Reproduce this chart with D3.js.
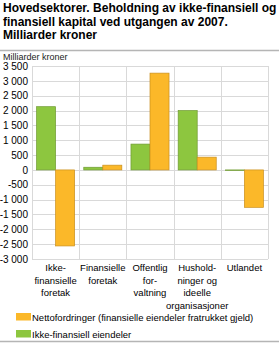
<!DOCTYPE html>
<html>
<head>
<meta charset="utf-8">
<script src="https://cdn.jsdelivr.net/npm/d3@7"></script>
<style>
body { margin: 0; background: #fff; }
svg { font-family: Arial, "Liberation Sans", sans-serif; }
</style>
</head>
<body>
<div id="chart"></div>
<script>
var categories = [
    ['Ikke-', 'finansielle', 'foretak'],
    ['Finansielle', 'foretak'],
    ['Offentlig', 'for-', 'valtning'],
    ['Hushold-', 'ninger og', 'ideelle', 'organisasjoner'],
    ['Utlandet']
];
var ikkeFinansiell = [2130, 90, 870, 2000, -10];
var nettofordringer = [-2560, 160, 3260, 430, -1260];
var yTicks = [3500, 3000, 2500, 2000, 1500, 1000, 500, 0, -500, -1000, -1500, -2000, -2500, -3000];
var seriesNames = ['Ikke-finansiell eiendeler', 'Nettofordringer (finansielle eiendeler fratrukket gjeld)'];
var colors = ['#8dc63f', '#fbb829'];
var strokes = ['#6f9a33', '#c98f1f'];

function drawChart() {
    var w = 279, h = 343;
    var pLeft = 32, pRight = 268, pTop = 66, pBottom = 259;

    var svg = d3.select('#chart').append('svg')
        .attr('width', w)
        .attr('height', h);

    // title
    var title = ['Hovedsektorer. Beholdning av ikke-finansiell og', 'finansiell kapital ved utgangen av 2007.', 'Milliarder kroner'];
    svg.append('g').selectAll('text').data(title).enter().append('text')
        .attr('x', 3)
        .attr('y', function (d, i) { return 12 + i * 13.5; })
        .attr('font-size', '12px')
        .attr('font-weight', 'bold')
        .attr('fill', '#000')
        .text(function (d) { return d; });

    svg.append('line')
        .attr('x1', 0).attr('x2', w)
        .attr('y1', 50.5).attr('y2', 50.5)
        .attr('stroke', '#b5b5b5')
        .attr('stroke-width', 1.5);

    svg.append('text')
        .attr('x', 3).attr('y', 60)
        .attr('font-size', '9px')
        .attr('fill', '#222')
        .text('Milliarder kroner');

    var x = d3.scaleBand()
        .domain(d3.range(categories.length))
        .range([pLeft, pRight]);

    var inner = d3.scaleBand()
        .domain([0, 1])
        .range([0, x.bandwidth()])
        .paddingOuter(0.24)
        .paddingInner(0);

    var y = d3.scaleLinear()
        .domain([-3000, 3500])
        .range([pBottom, pTop]);

    // grid
    svg.append('g').selectAll('line').data(yTicks).enter().append('line')
        .attr('x1', pLeft).attr('x2', pRight)
        .attr('y1', function (d) { return Math.round(y(d)) + 0.5; })
        .attr('y2', function (d) { return Math.round(y(d)) + 0.5; })
        .attr('stroke', '#d9d9d9')
        .attr('stroke-width', 1);

    svg.append('g').selectAll('line').data(d3.range(categories.length + 1)).enter().append('line')
        .attr('x1', function (d) { return Math.round(pLeft + d * x.step()) + 0.5; })
        .attr('x2', function (d) { return Math.round(pLeft + d * x.step()) + 0.5; })
        .attr('y1', pTop).attr('y2', pBottom)
        .attr('stroke', '#d9d9d9')
        .attr('stroke-width', 1);

    // y axis labels
    var yAxis = d3.axisLeft(y)
        .tickValues(yTicks)
        .tickSize(0)
        .tickPadding(4)
        .tickFormat(function (d) {
            return (d < 0 ? '-' : '') + String(Math.abs(d)).replace(/\B(?=(\d{3})+(?!\d))/g, ' ');
        });

    var ya = svg.append('g')
        .attr('transform', 'translate(' + pLeft + ',0)')
        .call(yAxis);
    ya.select('.domain').remove();
    ya.selectAll('text')
        .attr('font-size', '10px')
        .attr('font-family', 'Arial, "Liberation Sans", sans-serif')
        .attr('fill', '#000');

    // bars
    var groups = svg.append('g').selectAll('g').data(categories).enter().append('g')
        .attr('transform', function (d, i) { return 'translate(' + x(i) + ',0)'; });

    var seriesData = [ikkeFinansiell, nettofordringer];
    groups.selectAll('rect')
        .data(function (d, i) { return seriesData.map(function (s, k) { return {k: k, v: s[i]}; }); })
        .enter().append('rect')
        .attr('x', function (d) { return inner(d.k); })
        .attr('width', inner.bandwidth())
        .attr('y', function (d) { return y(Math.max(0, d.v)); })
        .attr('height', function (d) { return Math.max(0.5, Math.abs(y(d.v) - y(0))); })
        .attr('fill', function (d) { return colors[d.k]; })
        .attr('stroke', function (d) { return strokes[d.k]; })
        .attr('stroke-width', 0.7);

    // x labels
    groups.append('text')
        .attr('text-anchor', 'middle')
        .attr('font-size', '9.5px')
        .attr('fill', '#000')
        .selectAll('tspan')
        .data(function (d) { return d; })
        .enter().append('tspan')
        .attr('x', x.bandwidth() / 2)
        .attr('y', function (d, i) { return 271 + i * 12.5; })
        .text(function (d) { return d; });

    // legend
    var legend = [{name: seriesNames[1], k: 1}, {name: seriesNames[0], k: 0}];
    var lg = svg.append('g').selectAll('g').data(legend).enter().append('g')
        .attr('transform', function (d, i) { return 'translate(16,' + (313 + i * 17) + ')'; });
    lg.append('rect')
        .attr('width', 15).attr('height', 7.5)
        .attr('fill', function (d) { return colors[d.k]; });
    lg.append('text')
        .attr('x', 16).attr('y', 7.5)
        .attr('font-size', '9.5px')
        .attr('fill', '#000')
        .text(function (d) { return d.name; });

    svg.append('line')
        .attr('x1', 0).attr('x2', w)
        .attr('y1', 341.5).attr('y2', 341.5)
        .attr('stroke', '#b5b5b5')
        .attr('stroke-width', 1.5);
}

drawChart();
</script>
</body>
</html>
